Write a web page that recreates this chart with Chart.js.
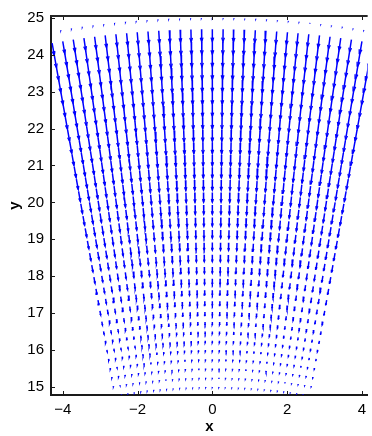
<!DOCTYPE html>
<html>
<head>
<meta charset="utf-8">
<script src="https://cdn.jsdelivr.net/npm/chart.js@4/dist/chart.umd.min.js"></script>
<style>
  html, body { margin: 0; padding: 0; background: #fff; }
  #wrap { width: 372px; height: 436px; position: relative; }
</style>
</head>
<body>
<div id="wrap"><canvas id="c"></canvas></div>
<script>
// Polar sampling grid: radius of each ring, direction of each ray (degrees from +y)
const radii = [15.00, 15.25, 15.50, 15.75, 16.00, 16.25, 16.50, 16.76, 17.03, 17.32,
               17.62, 17.93, 18.25, 18.58, 18.91, 19.25, 19.59, 19.93, 20.27, 20.61,
               20.95, 21.29, 21.63, 21.97, 22.31, 22.65, 22.99, 23.33, 23.67, 24.01,
               24.35, 24.69, 25.00];
const anglesDeg = [-10, -9.33, -8.67, -8, -7.33, -6.67, -6, -5.33, -4.67, -4, -3.33,
                   -2.67, -2, -1.33, -0.67, 0, 0.67, 1.33, 2, 2.67, 3.33, 4, 4.67,
                   5.33, 6, 6.67, 7.33, 8, 8.67, 9.33, 10];
// Inward (towards the origin) vector length on each ring
const speeds = [0.008, 0.016, 0.027, 0.037, 0.048, 0.058, 0.069, 0.082, 0.098, 0.114,
                0.133, 0.151, 0.170, 0.188, 0.207, 0.223, 0.239, 0.252, 0.265, 0.279,
                0.289, 0.300, 0.308, 0.316, 0.321, 0.326, 0.332, 0.334, 0.337, 0.340,
                0.340, 0.337, 0.005];

const xTicks = [-4, -2, 0, 2, 4];
const yTicks = [15, 16, 17, 18, 19, 20, 21, 22, 23, 24, 25];

// quiver-style arrow geometry (head length / width ratios)
const ALPHA = 0.33, BETA = 0.33;
const GAP = { x: null, y: null };
const shafts = [];
const heads = [];
radii.forEach((r, i) => {
  const L = speeds[i];
  anglesDeg.forEach(deg => {
    const t = deg * Math.PI / 180;
    const x = r * Math.sin(t), y = r * Math.cos(t);
    const u = -L * Math.sin(t), v = -L * Math.cos(t);
    const tx = x + u, ty = y + v;
    shafts.push({ x: x, y: y }, { x: tx, y: ty }, GAP);
    heads.push(
      { x: tx - ALPHA * (u + BETA * v), y: ty - ALPHA * (v - BETA * u) },
      { x: tx, y: ty },
      { x: tx - ALPHA * (u - BETA * v), y: ty - ALPHA * (v + BETA * u) },
      GAP
    );
  });
});

const minus = v => (v < 0 ? '\u2212' + Math.abs(v) : String(v));
const FONT = 'Liberation Sans, Arial, Helvetica, sans-serif';

// inward tick marks on bottom/top/left edges plus the top frame line
const frameTicks = {
  id: 'frameTicks',
  afterDatasetsDraw(chart) {
    const { ctx, chartArea: a, scales: { x, y } } = chart;
    ctx.save();
    ctx.strokeStyle = '#1a1a1a';
    ctx.lineWidth = 1;
    ctx.beginPath();
    xTicks.forEach(v => {
      const px = Math.round(x.getPixelForValue(v)) + 0.5;
      ctx.moveTo(px, a.bottom); ctx.lineTo(px, a.bottom - 4);
      ctx.moveTo(px, a.top); ctx.lineTo(px, a.top + 4);
    });
    yTicks.forEach(v => {
      const py = Math.round(y.getPixelForValue(v)) + 0.5;
      ctx.moveTo(a.left, py); ctx.lineTo(a.left + 4, py);
    });
    ctx.stroke();
    ctx.lineWidth = 2;
    ctx.strokeStyle = '#262626';
    ctx.beginPath();
    ctx.moveTo(a.left - 1, a.top);
    ctx.lineTo(a.right, a.top);
    ctx.stroke();
    ctx.restore();
  }
};

new Chart(document.getElementById('c'), {
  type: 'scatter',
  data: {
    datasets: [
      {
        data: shafts, showLine: true, spanGaps: false,
        borderColor: 'rgb(0,0,255)', borderWidth: 1.5,
        pointRadius: 0, pointHoverRadius: 0
      },
      {
        data: heads, showLine: true, spanGaps: false,
        borderColor: 'rgb(0,0,255)', borderWidth: 1.3,
        pointRadius: 0, pointHoverRadius: 0
      }
    ]
  },
  options: {
    responsive: true,
    maintainAspectRatio: false,
    animation: false,
    events: [],
    layout: { padding: { top: 8, right: 0, bottom: 0, left: 0 } },
    plugins: { legend: { display: false }, tooltip: { enabled: false } },
    scales: {
      x: {
        type: 'linear', min: -4.317, max: 4.156,
        afterFit: s => { s.height = 41; },
        afterBuildTicks: s => { s.ticks = xTicks.map(v => ({ value: v })); },
        grid: { display: false, drawTicks: false },
        border: { display: true, color: '#1a1a1a', width: 2 },
        ticks: {
          color: '#000', padding: 6, maxRotation: 0,
          font: { family: FONT, size: 15 },
          callback: v => minus(v)
        },
        title: {
          display: true, text: 'x', color: '#000',
          padding: { top: 0, bottom: 0 },
          font: { family: FONT, size: 15, weight: 'bold' }
        }
      },
      y: {
        type: 'linear', min: 14.78, max: 25.05,
        afterFit: s => { s.width = 51; },
        afterBuildTicks: s => { s.ticks = yTicks.map(v => ({ value: v })); },
        grid: { display: false, drawTicks: false },
        border: { display: true, color: '#1a1a1a', width: 2 },
        ticks: {
          color: '#000', padding: 7,
          font: { family: FONT, size: 15 },
          callback: v => minus(v)
        },
        title: {
          display: true, text: 'y', color: '#000',
          padding: { top: 6, bottom: 0 },
          font: { family: FONT, size: 15, weight: 'bold' }
        }
      }
    }
  },
  plugins: [frameTicks]
});
</script>
</body>
</html>
